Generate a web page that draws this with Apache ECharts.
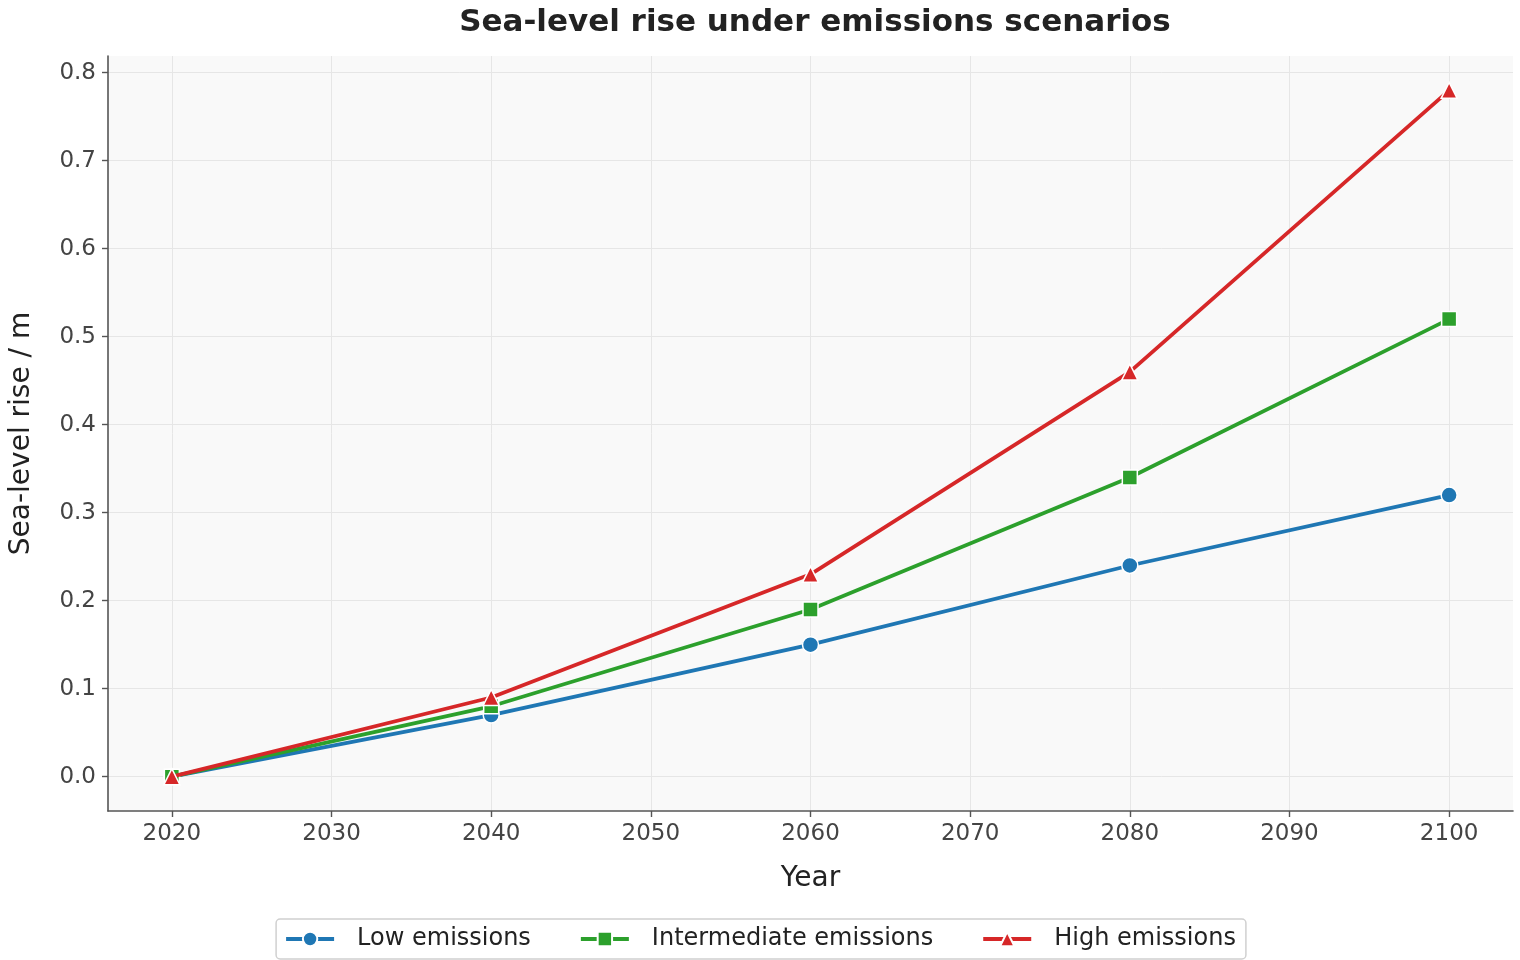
<!DOCTYPE html>
<html lang="en">
<head>
<meta charset="UTF-8">
<title>Sea-level rise under emissions scenarios</title>
<script src="https://cdn.jsdelivr.net/npm/echarts@6/dist/echarts.min.js"></script>
<style>
  html, body { margin: 0; padding: 0; background: #fff; }
  #chart { width: 1520px; height: 960px; }
</style>
</head>
<body>
<div id="chart"></div>
<script>
var years = [2020, 2040, 2060, 2080, 2100];
var lowEmissions = [0.00, 0.07, 0.15, 0.24, 0.32];
var intermediateEmissions = [0.00, 0.08, 0.19, 0.34, 0.52];
var highEmissions = [0.00, 0.09, 0.23, 0.46, 0.78];
var seriesNames = ['Low emissions', 'Intermediate emissions', 'High emissions'];
var xTicks = [2020, 2030, 2040, 2050, 2060, 2070, 2080, 2090, 2100];
var yTicks = [0, 0.1, 0.2, 0.3, 0.4, 0.5, 0.6, 0.7, 0.8];

var seriesColors = ['#1f77b4', '#2ca02c', '#d62728'];
var seriesSymbols = ['circle', 'rect', 'triangle'];

function pairs(values) {
    return years.map(function (y, i) { return [y, values[i]]; });
}

var chart = echarts.init(document.getElementById('chart'));
var font = 'DejaVu Sans';

function makeSeries(idx, values) {
    return {
        name: seriesNames[idx],
        type: 'line',
        data: pairs(values),
        symbol: seriesSymbols[idx],
        symbolSize: idx === 1 ? 15 : 16,
        showAllSymbol: true,
        z: 3 + idx,
        lineStyle: { color: seriesColors[idx], width: 3.8 },
        itemStyle: { color: seriesColors[idx], borderColor: '#fff', borderWidth: 1.5 },
        emphasis: { disabled: true }
    };
}

chart.setOption({
    animation: false,
    textStyle: { fontFamily: font },
    title: {
        text: 'Sea-level rise under emissions scenarios',
        left: 810, top: 2, textAlign: 'center',
        textStyle: { fontFamily: font, fontSize: 31, fontWeight: 'bold', color: '#222' }
    },
    grid: { left: 107, right: 7, top: 56, bottom: 149, show: true, backgroundColor: '#f9f9f9', borderWidth: 0 },
    legend: {
        bottom: 1, left: 'center',
        itemWidth: 48, itemHeight: 18, itemGap: 48,
        padding: [8, 10, 8, 8],
        borderColor: '#d0d0d0', borderWidth: 1.5, borderRadius: 4,
        backgroundColor: '#fff',
        lineStyle: { width: 4 },
        textStyle: { fontFamily: font, fontSize: 24, color: '#222', padding: [0, 0, 0, 18] },
        data: seriesNames
    },
    xAxis: {
        type: 'value', min: 2016, max: 2104,
        name: 'Year', nameLocation: 'middle', nameGap: 54,
        nameTextStyle: { fontFamily: font, fontSize: 28, color: '#222' },
        axisLine: { show: true, onZero: false, lineStyle: { color: '#555', width: 1.6 } },
        axisTick: { show: true, length: 6, lineStyle: { color: '#555', width: 1.4 }, customValues: xTicks },
        axisLabel: {
            fontFamily: font, fontSize: 23, color: '#444', margin: 12,
            customValues: xTicks,
            formatter: function (v) { return String(v); }
        },
        splitLine: { show: true, lineStyle: { color: '#e6e6e6', width: 1 } }
    },
    yAxis: {
        type: 'value', min: -0.039, max: 0.819,
        name: 'Sea-level rise / m', nameLocation: 'middle', nameGap: 72,
        nameTextStyle: { fontFamily: font, fontSize: 28, color: '#222' },
        axisLine: { show: true, onZero: false, lineStyle: { color: '#555', width: 1.6 } },
        axisTick: { show: true, length: 6, lineStyle: { color: '#555', width: 1.4 }, customValues: yTicks },
        axisLabel: {
            fontFamily: font, fontSize: 23, color: '#444', margin: 12,
            customValues: yTicks,
            formatter: function (v) { return v.toFixed(1); }
        },
        splitLine: { show: true, lineStyle: { color: '#e6e6e6', width: 1 } }
    },
    series: [
        makeSeries(0, lowEmissions),
        makeSeries(1, intermediateEmissions),
        makeSeries(2, highEmissions)
    ]
});
</script>
</body>
</html>
